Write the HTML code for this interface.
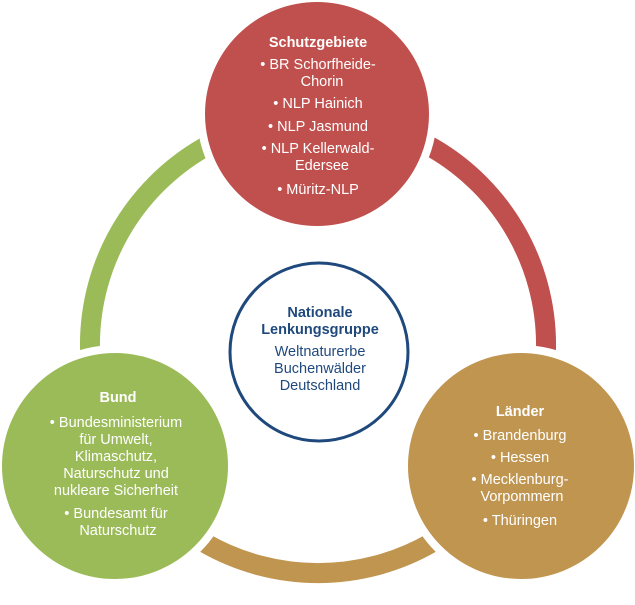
<!DOCTYPE html>
<html><head><meta charset="utf-8"><style>
body{margin:0;background:#fff;width:635px;height:600px;overflow:hidden}
svg text{font-family:"Liberation Sans",sans-serif;fill:#fff;font-size:14.5px;text-anchor:middle}
</style></head><body>
<svg width="635" height="600" viewBox="0 0 635 600">
<g fill="none" stroke-width="20">
<path d="M 120.5 459 A 228 228 0 0 1 318 117" stroke="#9bbb59"/>
<path d="M 318 117 A 228 228 0 0 1 515.5 459" stroke="#c0504d"/>
<path d="M 515.5 459 A 228 228 0 0 1 120.5 459" stroke="#c0954f"/>
</g>
<circle cx="317" cy="114" r="116" fill="#c0504d" stroke="#fff" stroke-width="8"/>
<circle cx="115" cy="466" r="117" fill="#9bbb59" stroke="#fff" stroke-width="8"/>
<circle cx="521" cy="466" r="117" fill="#c0954f" stroke="#fff" stroke-width="8"/>
<circle cx="319" cy="352" r="89" fill="#fff" stroke="#1f497d" stroke-width="3"/>
<text x="318" y="47" font-weight="bold" font-size="15">Schutzgebiete</text>
<text x="318" y="69">• BR Schorfheide-</text>
<text x="322" y="86">Chorin</text>
<text x="318" y="108">• NLP Hainich</text>
<text x="318" y="131">• NLP Jasmund</text>
<text x="318" y="153">• NLP Kellerwald-</text>
<text x="322" y="170">Edersee</text>
<text x="318" y="194">• Müritz-NLP</text>
<text x="320" y="317" font-weight="bold" font-size="15" style="fill:#1f497d">Nationale</text>
<text x="320" y="334" font-weight="bold" font-size="15" style="fill:#1f497d">Lenkungsgruppe</text>
<text x="320" y="356" style="fill:#1f497d">Weltnaturerbe</text>
<text x="320" y="373" style="fill:#1f497d">Buchenwälder</text>
<text x="320" y="390" style="fill:#1f497d">Deutschland</text>
<text x="118" y="402" font-weight="bold" font-size="15">Bund</text>
<text x="116" y="427">• Bundesministerium</text>
<text x="116" y="444">für Umwelt,</text>
<text x="116" y="461">Klimaschutz,</text>
<text x="116" y="478">Naturschutz und</text>
<text x="116" y="495">nukleare Sicherheit</text>
<text x="116" y="518">• Bundesamt für</text>
<text x="118" y="535">Naturschutz</text>
<text x="520" y="416" font-weight="bold" font-size="15">Länder</text>
<text x="520" y="440">• Brandenburg</text>
<text x="520" y="462">• Hessen</text>
<text x="520" y="484">• Mecklenburg-</text>
<text x="522" y="501">Vorpommern</text>
<text x="520" y="525">• Thüringen</text>
</svg>
</body></html>
